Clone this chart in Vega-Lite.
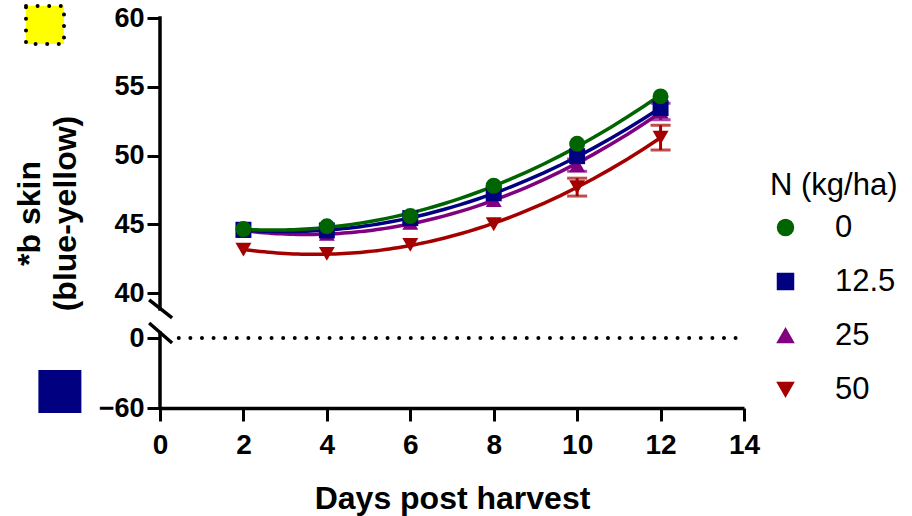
{
  "$schema": "https://vega.github.io/schema/vega-lite/v6.json",
  "width": 584,
  "height": 390,
  "autosize": {"type": "none"},
  "padding": {"left": 160, "top": 18, "right": 168, "bottom": 108},
  "config": {
    "view": {"stroke": null},
    "font": "Liberation Sans",
    "style": {"guide-title": {"lineBreak": "|"}},
    "axis": {
      "grid": false,
      "domainColor": "black",
      "domainWidth": 3.5,
      "tickColor": "black",
      "tickWidth": 3,
      "tickSize": 13,
      "labelColor": "black",
      "labelFont": "Liberation Sans",
      "labelFontWeight": "bold",
      "titleColor": "black",
      "titleFont": "Liberation Sans",
      "titleFontWeight": "bold",
      "titleFontSize": 32,
      "labelFlush": false,
      "labelOverlap": false
    },
    "legend": {
      "orient": "none",
      "legendX": 610,
      "legendY": 153,
      "labelFont": "Liberation Sans",
      "labelFontSize": 31,
      "labelColor": "black",
      "titleFont": "Liberation Sans",
      "titleFontSize": 31,
      "titleFontWeight": "normal",
      "titleColor": "black",
      "titlePadding": 10,
      "symbolSize": 256,
      "symbolOpacity": 1,
      "rowPadding": 22,
      "labelOffset": 34
    }
  },
  "data": {
    "values": [
      {"N": "50", "day": 2, "b": 43.15, "sd": 0.2},
      {"N": "50", "day": 4, "b": 42.85, "sd": 0.2},
      {"N": "50", "day": 6, "b": 43.5, "sd": 0.2},
      {"N": "50", "day": 8, "b": 45.0, "sd": 0.25},
      {"N": "50", "day": 10, "b": 47.7, "sd": 0.65},
      {"N": "50", "day": 12, "b": 51.3, "sd": 0.9},
      {"N": "25", "day": 2, "b": 44.5, "sd": 0.15},
      {"N": "25", "day": 4, "b": 44.3, "sd": 0.2},
      {"N": "25", "day": 6, "b": 45.1, "sd": 0.2},
      {"N": "25", "day": 8, "b": 46.75, "sd": 0.25},
      {"N": "25", "day": 10, "b": 49.3, "sd": 0.45},
      {"N": "25", "day": 12, "b": 53.2, "sd": 0.6},
      {"N": "12.5", "day": 2, "b": 44.6, "sd": 0.15},
      {"N": "12.5", "day": 4, "b": 44.55, "sd": 0.2},
      {"N": "12.5", "day": 6, "b": 45.45, "sd": 0.2},
      {"N": "12.5", "day": 8, "b": 47.25, "sd": 0.2},
      {"N": "12.5", "day": 10, "b": 49.95, "sd": 0.3},
      {"N": "12.5", "day": 12, "b": 53.45, "sd": 0.35},
      {"N": "0", "day": 2, "b": 44.65, "sd": 0.15},
      {"N": "0", "day": 4, "b": 44.85, "sd": 0.2},
      {"N": "0", "day": 6, "b": 45.6, "sd": 0.2},
      {"N": "0", "day": 8, "b": 47.8, "sd": 0.2},
      {"N": "0", "day": 10, "b": 50.85, "sd": 0.25},
      {"N": "0", "day": 12, "b": 54.3, "sd": 0.3}
    ]
  },
  "layer": [
    {
      "data": {"values": [{}]},
      "mark": {"type": "rule", "color": "black", "strokeWidth": 4, "strokeDash": [0, 11.6], "strokeCap": "round"},
      "encoding": {
        "x": {"datum": 0.45},
        "x2": {"datum": 13.9},
        "y": {"datum": 0}
      }
    },
    {
      "transform": [{"regression": "b", "on": "day", "groupby": ["N"], "method": "poly", "order": 2}],
      "mark": {"type": "line", "strokeWidth": 3.5},
      "encoding": {
        "x": {
          "field": "day", "type": "quantitative",
          "scale": {"domain": [0, 14], "nice": false, "zero": false},
          "axis": {
            "values": [0, 2, 4, 6, 8, 10, 12, 14],
            "title": "Days post harvest",
            "labelFontSize": 28,
            "labelPadding": 10,
            "titleY": 100,
            "titleBaseline": "alphabetic"
          }
        },
        "y": {
          "field": "b", "type": "quantitative",
          "scale": {"domain": [-60, 0, 40, 60], "range": [390, 320, 275, 0], "nice": false, "zero": false},
          "axis": {
            "values": [-60, 0, 40, 45, 50, 55, 60],
            "domain": false,
            "title": "*b skin|(blue-yellow)",
            "titleX": -146,
            "titleBaseline": "top",
            "titleLineHeight": 36,
            "labelFontSize": 27,
            "labelPadding": 3
          }
        },
        "color": {
          "field": "N", "type": "nominal", "title": "N (kg/ha)",
          "scale": {"domain": ["0", "12.5", "25", "50"], "range": ["#006400", "#000080", "#800080", "#a50000"]}
        }
      }
    },
    {
      "transform": [{"filter": "datum.sd >= 0.4"}],
      "mark": {"type": "errorbar", "ticks": {"size": 20}, "thickness": 3},
      "encoding": {
        "x": {"field": "day", "type": "quantitative", "title": "Days post harvest"},
        "y": {"field": "b", "type": "quantitative", "title": "*b skin|(blue-yellow)"},
        "yError": {"field": "sd"},
        "color": {"field": "N", "type": "nominal", "title": "N (kg/ha)"}
      }
    },
    {
      "mark": {"type": "point", "filled": true, "size": 255, "opacity": 1},
      "encoding": {
        "x": {"field": "day", "type": "quantitative"},
        "y": {"field": "b", "type": "quantitative"},
        "color": {"field": "N", "type": "nominal", "title": "N (kg/ha)"},
        "shape": {
          "field": "N", "type": "nominal", "title": "N (kg/ha)",
          "scale": {"domain": ["0", "12.5", "25", "50"], "range": ["circle", "square", "triangle-up", "triangle-down"]}
        }
      }
    },
    {
      "data": {"values": [{}]},
      "mark": {"type": "rule", "color": "black", "strokeWidth": 3.5, "strokeCap": "square"},
      "encoding": {
        "x": {"datum": 0},
        "y": {"datum": 25.8},
        "y2": {"datum": 60}
      }
    },
    {
      "data": {"values": [{}]},
      "mark": {"type": "rule", "color": "black", "strokeWidth": 3.5, "strokeCap": "square"},
      "encoding": {
        "x": {"datum": 0},
        "y": {"datum": -60},
        "y2": {"datum": 4.4}
      }
    },
    {
      "data": {"values": [{}]},
      "mark": {"type": "rule", "color": "black", "strokeWidth": 3.5},
      "encoding": {
        "x": {"datum": -0.26},
        "x2": {"datum": 0.29},
        "y": {"datum": 33.8},
        "y2": {"datum": 17.8}
      }
    },
    {
      "data": {"values": [{}]},
      "mark": {"type": "rule", "color": "black", "strokeWidth": 3.5},
      "encoding": {
        "x": {"datum": -0.26},
        "x2": {"datum": 0.29},
        "y": {"datum": 13.3},
        "y2": {"datum": -4.3}
      }
    },
    {
      "data": {"values": [{}]},
      "mark": {"type": "point", "shape": "square", "filled": true, "fill": "#ffff00", "stroke": "black", "strokeWidth": 4, "strokeDash": [0, 11.6], "strokeCap": "round", "size": 1444, "opacity": 1},
      "encoding": {
        "x": {"datum": -2.757},
        "y": {"datum": 59.49}
      }
    },
    {
      "data": {"values": [{}]},
      "mark": {"type": "point", "shape": "square", "filled": true, "fill": "#000080", "strokeWidth": 0, "size": 1849, "opacity": 1},
      "encoding": {
        "x": {"datum": -2.4},
        "y": {"datum": -45.86}
      }
    }
  ]
}
